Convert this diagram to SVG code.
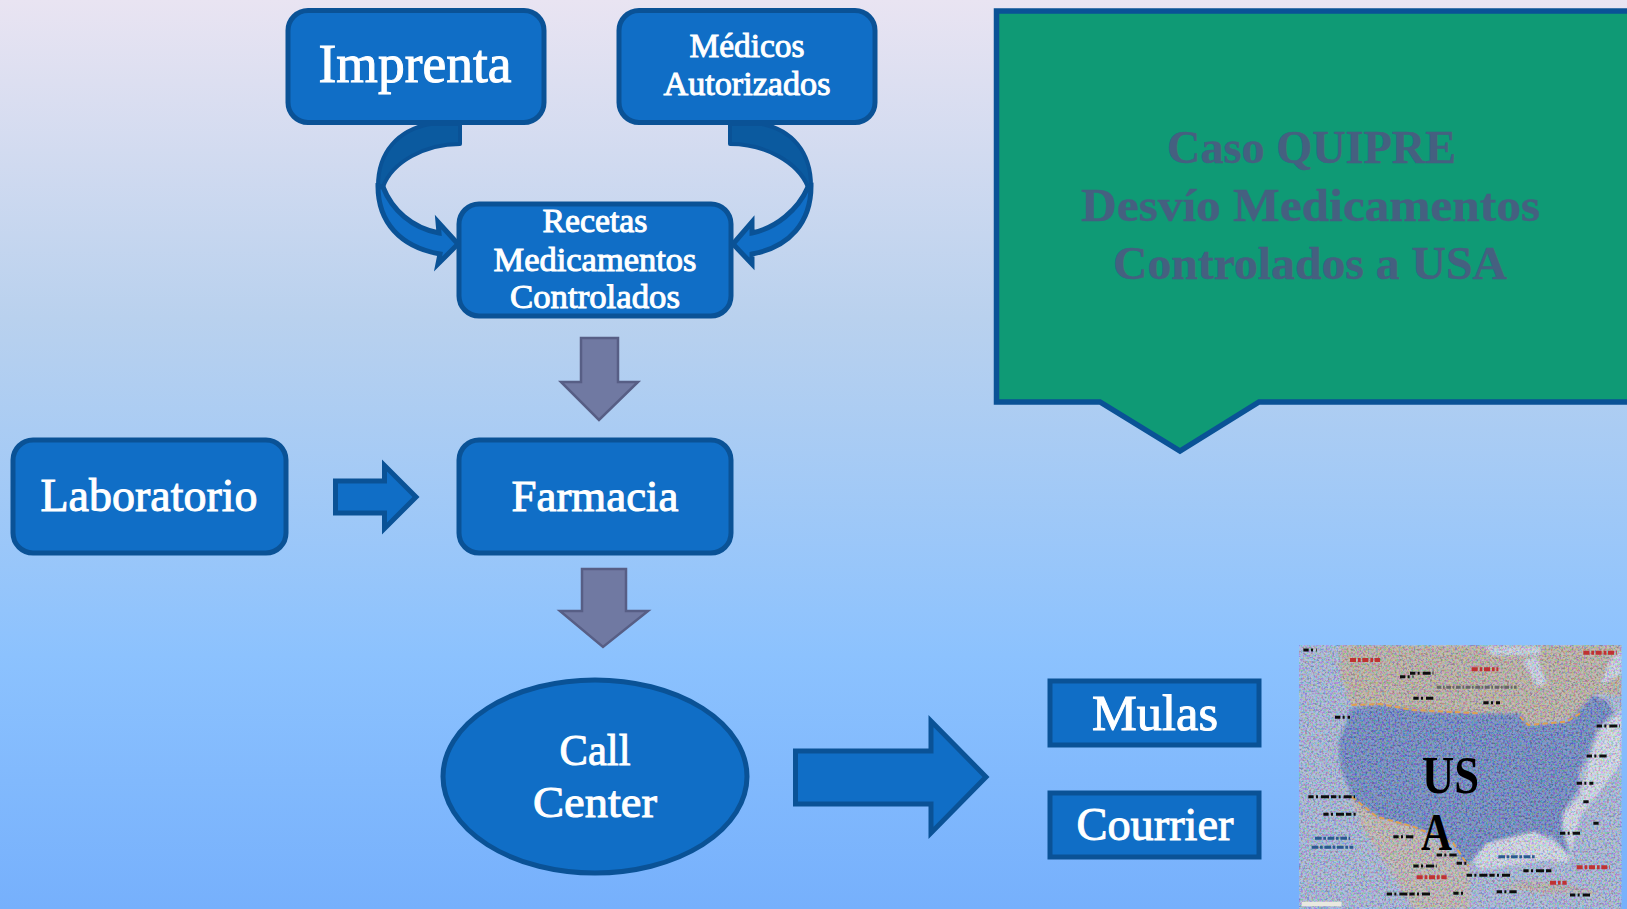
<svg xmlns="http://www.w3.org/2000/svg" width="1627" height="909" viewBox="0 0 1627 909">
<defs>
<linearGradient id="bg" x1="0" y1="0" x2="0" y2="1">
<stop offset="0" stop-color="#e9e4f2"/><stop offset="0.35" stop-color="#b9d1ee"/><stop offset="0.72" stop-color="#8cc2fe"/><stop offset="1" stop-color="#76b0fc"/>
</linearGradient>
<filter id="speckle" x="0" y="0" width="1" height="1">
<feTurbulence type="fractalNoise" baseFrequency="0.16" numOctaves="2" seed="4"/>
<feColorMatrix type="matrix" values="4 0 0 0 -1.5  0 4 0 0 -1.5  0 0 4 0 -1.5  0 0 0 0 1"/>
</filter>
<filter id="soft"><feGaussianBlur stdDeviation="4"/></filter>
<filter id="softer"><feGaussianBlur stdDeviation="1.2"/></filter>
<clipPath id="mapclip"><rect x="57" y="45" width="968" height="792"/></clipPath>
<style>
text{font-family:"Liberation Serif","Times New Roman",serif;text-anchor:middle}
.box{fill:#106ec6;stroke:#0a5296;stroke-width:5}
.blue{fill:#106ec6;stroke:#0a5296;stroke-width:5;stroke-linejoin:miter}
.dark{fill:#0b5a9f;stroke:#0a5296;stroke-width:4;stroke-linejoin:round}
.grey{fill:#7079a2;stroke:#575e85;stroke-width:2.500}
.w{fill:#fff;stroke:#fff;stroke-width:1}
.t{fill:#456080;stroke:#456080;stroke-width:.4;font-weight:bold}
.m{fill:#000;font-weight:bold}
</style>
</defs>
<rect id="background" width="1627" height="909" fill="url(#bg)"/>

<g id="callout">
<path d="M996.500 11H1640V402H1259L1180 451 1100 402H996.500Z" fill="#0f9a75" stroke="#0a5296" stroke-width="5.500"/>
<text class="t" x="1311.500" y="163" font-size="47" textLength="289" lengthAdjust="spacingAndGlyphs">Caso QUIPRE</text>
<text class="t" x="1310.500" y="221" font-size="47" textLength="459" lengthAdjust="spacingAndGlyphs">Desvío Medicamentos</text>
<text class="t" x="1310" y="279" font-size="47" textLength="394" lengthAdjust="spacingAndGlyphs">Controlados a USA</text>
</g>

<g id="map">
<g transform="translate(1280 630) scale(.33333)" clip-path="url(#mapclip)">
<g filter="url(#soft)">
<rect x="57" y="45" width="968" height="792" fill="#a4b4d8"/>
<path d="M180 45H1025V200L950 190 900 260 740 285 600 250 450 245 300 225 215 225 180 130Z" fill="#b8aea6"/>
<path d="M730 90L770 170 800 160 770 80ZM610 50H780V75H640ZM960 170L1025 130V60L990 90Z" fill="#c8d0e4"/>
<path d="M1025 240L960 300 925 400 900 500 850 550 850 600 880 690 830 640 760 605 620 640 580 690 600 720 800 690 860 700 880 640 900 560 1025 400Z" fill="#cfd6e8"/>
<path d="M210 500L280 550 400 590 540 690 570 710 570 837H400L330 720 250 600Z" fill="#bcb4b4"/>
<path d="M640 770L760 750 880 770 980 790 800 790Z" fill="#b5aeb0"/>
<path d="M215 230L300 225 450 245 600 250 720 250 745 285 860 275 940 195 985 215 1000 250 950 300 930 360 895 430 895 480 850 545 845 590 870 680 820 620 760 605 620 640 570 700 540 690 520 640 400 590 290 560 220 510 180 410 175 340Z" fill="#6b85c2"/>
</g>
<rect x="57" y="45" width="968" height="792" filter="url(#speckle)" opacity=".22"/>
<g filter="url(#softer)">
<path d="M215 225L300 222 400 240 600 250M720 260L745 285 860 275 900 250M215 500L290 560 400 590 520 640 565 708" fill="none" stroke="#e0a050" stroke-width="6" stroke-dasharray="16 10"/>
<path d="M70 60h40M165 262h45M360 140h40M390 130h70M400 205h60M610 218h50M920 378h60M890 460h50M910 515h20M85 500h140M130 553h100M400 708h70M530 700h30M560 736h130M320 792h130M520 790h30M650 785h60M870 795h60M730 722h90M840 610h60M950 288h70M940 580h20M470 675h60M340 620h60" fill="none" stroke="#111" stroke-width="9" stroke-dasharray="16 7 6 9 24 6"/>
<path d="M210 90h90M575 118h80M410 742h90M890 712h100M810 758h50M910 68h100" fill="none" stroke="#c03030" stroke-width="12" stroke-dasharray="18 6 8 5"/>
<path d="M105 625h105M95 652h125M655 680h110" fill="none" stroke="#2a5a90" stroke-width="9" stroke-dasharray="20 5 8 5"/>
<path d="M470 172h240" fill="none" stroke="#666" stroke-width="9" stroke-dasharray="14 5 5 5"/>
<path d="M65 822h120" fill="none" stroke="#e8e8e0" stroke-width="14"/>
</g>
</g>
<text class="m" x="1450.500" y="793" font-size="52" textLength="57" lengthAdjust="spacingAndGlyphs">US</text>
<text class="m" x="1436.500" y="850" font-size="52" textLength="31" lengthAdjust="spacingAndGlyphs">A</text>
</g>

<g id="connectors">
<g id="curve-left">
<path class="dark" d="M460 124H430C398 130 378 152 378 186 378 192 383 187 383 187 392 162 425 144 460 144Z"/>
<path class="blue" d="M378 186C378 222 400 247 440 254L438 264 458 244 438 222 439 233C412 228 392 210 383 187Z"/>
</g>
<g id="curve-right">
<path class="dark" d="M730 124H762C792 130 811 152 811 186 811 192 808 187 808 187 798 162 765 144 730 144Z"/>
<path class="blue" d="M811 186C811 222 790 247 752 254L752 264 733 244 752 222 752 233C776 228 798 210 808 187Z"/>
</g>
<path id="arrow-recetas-farmacia" class="grey" d="M581 338H618V382H638L599 420 561 382H581Z"/>
<path id="arrow-farmacia-callcenter" class="grey" d="M582 569H626V611H648L603 647 560 611H582Z"/>
<path id="arrow-lab-farmacia" class="blue" d="M335.500 481H384.500V465.500L416 497 384.500 528.500V513H335.500Z"/>
<path id="arrow-callcenter-mulas" class="blue" d="M795.500 751H931V721L986 777 931 833V804H795.500Z"/>
</g>

<g id="imprenta"><rect class="box" x="288" y="10.500" width="256" height="112" rx="20"/>
<text class="w" x="415" y="82" font-size="54" textLength="193" lengthAdjust="spacingAndGlyphs">Imprenta</text></g>
<g id="medicos"><rect class="box" x="619" y="10.500" width="256" height="112" rx="20"/>
<text class="w" x="747" y="57" font-size="34" textLength="115" lengthAdjust="spacingAndGlyphs">Médicos</text>
<text class="w" x="747" y="95" font-size="34" textLength="167" lengthAdjust="spacingAndGlyphs">Autorizados</text></g>
<g id="recetas"><rect class="box" x="459" y="204" width="272" height="112" rx="20"/>
<text class="w" x="595" y="232" font-size="34" textLength="105" lengthAdjust="spacingAndGlyphs">Recetas</text>
<text class="w" x="595" y="271" font-size="34" textLength="203" lengthAdjust="spacingAndGlyphs">Medicamentos</text>
<text class="w" x="595" y="308" font-size="34" textLength="170" lengthAdjust="spacingAndGlyphs">Controlados</text></g>
<g id="farmacia"><rect class="box" x="459" y="440" width="272" height="113" rx="20"/>
<text class="w" x="595" y="511" font-size="45" textLength="167" lengthAdjust="spacingAndGlyphs">Farmacia</text></g>
<g id="laboratorio"><rect class="box" x="13" y="440" width="273" height="113" rx="20"/>
<text class="w" x="149" y="511" font-size="46" textLength="217" lengthAdjust="spacingAndGlyphs">Laboratorio</text></g>
<g id="callcenter"><ellipse class="box" cx="595" cy="776.500" rx="152" ry="96.500"/>
<text class="w" x="595" y="765" font-size="45" textLength="71" lengthAdjust="spacingAndGlyphs">Call</text>
<text class="w" x="595" y="817" font-size="45" textLength="124" lengthAdjust="spacingAndGlyphs">Center</text></g>
<g id="mulas"><rect class="box" x="1050" y="681" width="209" height="64"/>
<text class="w" x="1155" y="730" font-size="50" textLength="126" lengthAdjust="spacingAndGlyphs">Mulas</text></g>
<g id="courrier"><rect class="box" x="1050" y="793" width="209" height="64"/>
<text class="w" x="1155" y="840" font-size="46" textLength="157" lengthAdjust="spacingAndGlyphs">Courrier</text></g>
</svg>
